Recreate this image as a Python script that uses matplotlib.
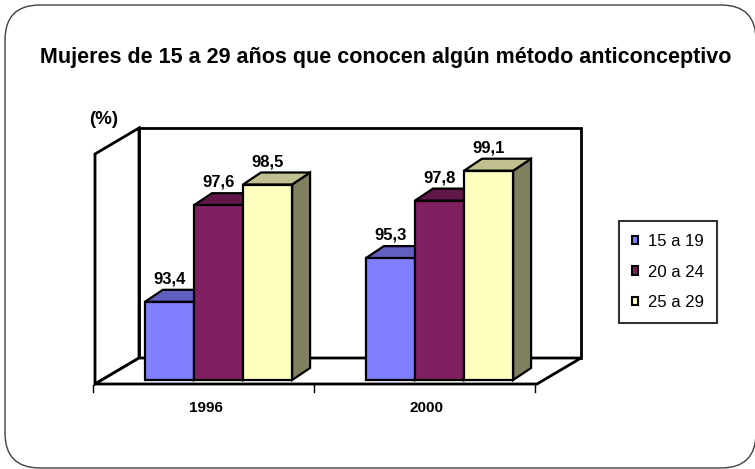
import matplotlib.pyplot as plt
from matplotlib.patches import Polygon, Patch, FancyBboxPatch
from matplotlib.transforms import Affine2D, IdentityTransform

plt.rcParams['font.family'] = ['Liberation Sans', 'DejaVu Sans']

years = ['1996', '2000']
groups = ['15 a 19', '20 a 24', '25 a 29']
v_15_19 = [93.4, 95.3]
v_20_24 = [97.6, 97.8]
v_25_29 = [98.5, 99.1]
series = [v_15_19, v_20_24, v_25_29]

front_col = ['#8080FF', '#802060', '#FFFFC0']
top_col = ['#6060C0', '#601848', '#C0C090']
side_col = ['#5050A0', '#501040', '#808060']

W, H = 755, 469
fig = plt.figure(figsize=(W / 100, H / 100), dpi=100)

# front plane of the 3d box, in pixels
ax = fig.add_axes([95 / W, (H - 384) / H, 442 / W, 230 / H])
ax.set_xlim(0, 2)
ax.set_ylim(90, 100)
ax.axis('off')

ident = IdentityTransform()
depth = (44, 26)      # wall depth, display px
bar_shift = (13, 4)   # bar front face relative to front plane
bar_depth = (18, 12)

def add(pts, fc, z, lw=1.6):
    p = Polygon(pts, closed=True, facecolor=fc, edgecolor='black', lw=lw,
                transform=ident, clip_on=False, zorder=z, joinstyle='miter')
    ax.add_artist(p)

# walls and floor
TA = ax.transAxes.transform
fbl, fbr, ftl = TA((0, 0)), TA((1, 0)), TA((0, 1))
def back(p):
    return (p[0] + depth[0], p[1] + depth[1])
btr = back(TA((1, 1)))
add([back(fbl), back(fbr), btr, back(ftl)], 'white', 1, 2)
add([fbl, ftl, back(ftl), back(fbl)], 'white', 1, 2)
add([fbl, fbr, back(fbr), back(fbl)], 'white', 1, 2)
for xf in [0, 0.5, 1]:
    x0, y0 = TA((xf, 0))
    ax.add_artist(plt.Line2D([x0 - 2, x0 - 2], [y0 - 1, y0 - 8], color='black',
                             lw=1, transform=ident, clip_on=False))

# bars
w = 0.222
T = ax.transData.transform
z = 3
for j in range(len(years)):
    for i, s in enumerate(series):
        xc = j + 0.5 + (i - 1) * w
        v = s[j]
        x0, x1 = xc - w / 2, xc + w / 2
        p0 = T((x0, v)) + bar_shift
        p1 = T((x1, v)) + bar_shift
        b1 = T((x1, 90)) + bar_shift
        d = bar_depth
        add([p1, b1, b1 + d, p1 + d], side_col[i], z)
        add([p0, p1, p1 + d, p0 + d], top_col[i], z)
        ax.bar(xc, v - 90, bottom=90, width=w, color=front_col[i],
               edgecolor='black', lw=1.6, zorder=z,
               transform=ax.transData + Affine2D().translate(*bar_shift),
               clip_on=False)
        z += 1
        lbl = f'{v:.1f}'.replace('.', ',')
        ax.annotate(lbl, (xc, v), xytext=(bar_shift[0], bar_shift[1] + 23),
                    textcoords='offset pixels', ha='center', va='center',
                    fontsize=12, fontweight='bold', zorder=20)

for j, y in enumerate(years):
    ax.annotate(y, (j + 0.5, 90), xytext=(0, -24), textcoords='offset pixels',
                ha='center', va='center', fontsize=11, fontweight='bold')

fig.text(386 / W, 1 - 57 / H,
         'Mujeres de 15 a 29 años que conocen algún método anticonceptivo',
         ha='center', va='center', fontsize=15.5, fontweight='bold')
fig.text(104 / W, 1 - 120 / H, '(%)', ha='center', va='center',
         fontsize=13.5, fontweight='bold')

handles = [Patch(facecolor=c, edgecolor='black', lw=1.5) for c in front_col]
leg = fig.legend(handles, groups, loc='center',
                 bbox_to_anchor=(668 / W, 1 - 272 / H), fontsize=12,
                 handlelength=0.38, handleheight=0.38, handletextpad=0.6,
                 labelspacing=0.95, borderpad=0.75, fancybox=False,
                 frameon=True, edgecolor='black')
leg.get_frame().set_linewidth(1.5)

border = FancyBboxPatch((5, 1), 751, 463,
                        boxstyle='round,pad=0,rounding_size=35',
                        transform=ident, fill=False, edgecolor='#404040', lw=1)
fig.add_artist(border)

fig.savefig('out.png', dpi=100)
